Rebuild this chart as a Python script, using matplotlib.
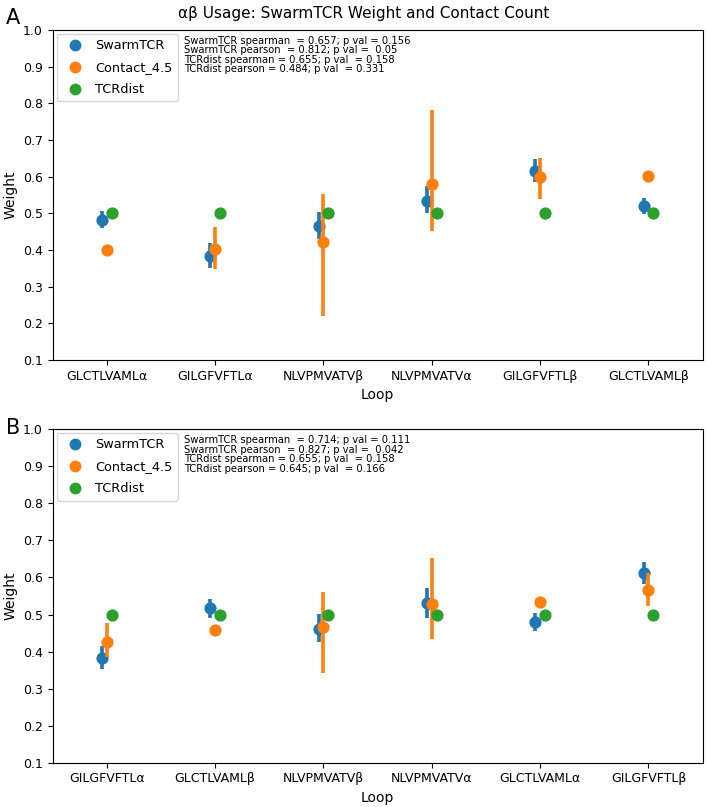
import numpy as np
import matplotlib
matplotlib.use("Agg")
import matplotlib.pyplot as plt
from matplotlib.lines import Line2D

series = ['SwarmTCR', 'Contact_4.5', 'TCRdist']
colors = ['#1f77b4', '#ff7f0e', '#2ca02c']

# panel A
loops_a = ['GLCTLVAMLα', 'GILGFVFTLα', 'NLVPMVATVβ', 'NLVPMVATVα', 'GILGFVFTLβ', 'GLCTLVAMLβ']
swarm_a = [0.483, 0.384, 0.466, 0.534, 0.616, 0.521]
swarm_a_lo = [0.459, 0.350, 0.430, 0.500, 0.586, 0.497]
swarm_a_hi = [0.507, 0.418, 0.504, 0.574, 0.648, 0.542]
contact_a = [0.400, 0.402, 0.422, 0.579, 0.598, 0.601]
contact_a_lo = [np.nan, 0.348, 0.220, 0.452, 0.538, np.nan]
contact_a_hi = [np.nan, 0.463, 0.552, 0.783, 0.651, np.nan]
tcrdist_a = [0.5, 0.5, 0.5, 0.5, 0.5, 0.5]
stats_a = ("SwarmTCR spearman  = 0.657; p val = 0.156\n"
           "SwarmTCR pearson  = 0.812; p val =  0.05\n"
           "TCRdist spearman = 0.655; p val  = 0.158\n"
           "TCRdist pearson = 0.484; p val  = 0.331")

# panel B
loops_b = ['GILGFVFTLα', 'GLCTLVAMLβ', 'NLVPMVATVβ', 'NLVPMVATVα', 'GLCTLVAMLα', 'GILGFVFTLβ']
swarm_b = [0.382, 0.517, 0.461, 0.530, 0.479, 0.611]
swarm_b_lo = [0.352, 0.491, 0.427, 0.491, 0.455, 0.582]
swarm_b_hi = [0.414, 0.542, 0.502, 0.571, 0.504, 0.643]
contact_b = [0.427, 0.459, 0.466, 0.528, 0.533, 0.566]
contact_b_lo = [0.385, np.nan, 0.343, 0.433, np.nan, 0.524]
contact_b_hi = [0.476, np.nan, 0.562, 0.652, np.nan, 0.611]
tcrdist_b = [0.5, 0.5, 0.5, 0.5, 0.5, 0.5]
stats_b = ("SwarmTCR spearman  = 0.714; p val = 0.111\n"
           "SwarmTCR pearson  = 0.827; p val =  0.042\n"
           "TCRdist spearman = 0.655; p val  = 0.158\n"
           "TCRdist pearson = 0.645; p val  = 0.166")


def draw_panel(ax, loops, vals, los, his, stats):
    x = np.arange(len(loops))
    offsets = [-0.045, 0.0, 0.045]
    for k in range(3):
        xs = x + offsets[k]
        lo = np.array(los[k], dtype=float)
        hi = np.array(his[k], dtype=float)
        ok = ~np.isnan(lo)
        if ok.any():
            ax.vlines(xs[ok], lo[ok], hi[ok], color=colors[k], lw=2.6, zorder=2 + k)
        ax.plot(xs, vals[k], 'o', color=colors[k], ms=7.8, ls='none', zorder=2 + k)
    ax.set_xticks(x)
    ax.set_xticklabels(loops, fontsize=9)
    ax.set_xlim(-0.5, len(loops) - 0.5)
    ax.set_ylim(0.1, 1.0)
    ax.set_yticks(np.arange(0.1, 1.01, 0.1))
    ax.set_yticklabels(['%.1f' % v for v in np.arange(0.1, 1.01, 0.1)], fontsize=9)
    ax.set_xlabel('Loop', fontsize=10)
    ax.set_ylabel('Weight', fontsize=10)
    handles = [Line2D([], [], marker='o', ls='none', color=c, ms=7.5) for c in colors]
    ax.legend(handles, series, loc='upper left', fontsize=9.3, borderaxespad=0.3,
              handletextpad=0.6, labelspacing=0.7)
    ax.text(0.202, 0.983, stats, transform=ax.transAxes, va='top', ha='left',
            fontsize=7.2, linespacing=0.95)


fig = plt.figure(figsize=(7.08, 8.07), dpi=100)
ax1 = fig.add_axes([0.0744, 0.5539, 0.918, 0.4089])
ax2 = fig.add_axes([0.0744, 0.0549, 0.918, 0.4131])

draw_panel(ax1, loops_a, [swarm_a, contact_a, tcrdist_a],
           [swarm_a_lo, contact_a_lo, [np.nan] * 6],
           [swarm_a_hi, contact_a_hi, [np.nan] * 6], stats_a)
draw_panel(ax2, loops_b, [swarm_b, contact_b, tcrdist_b],
           [swarm_b_lo, contact_b_lo, [np.nan] * 6],
           [swarm_b_hi, contact_b_hi, [np.nan] * 6], stats_b)

fig.text(0.514, 0.983, 'αβ Usage: SwarmTCR Weight and Contact Count', ha='center', va='center', fontsize=11)
fig.text(0.008, 0.978, 'A', ha='left', va='center', fontsize=15)
fig.text(0.008, 0.470, 'B', ha='left', va='center', fontsize=15)

fig.savefig('out.png', dpi=100)
